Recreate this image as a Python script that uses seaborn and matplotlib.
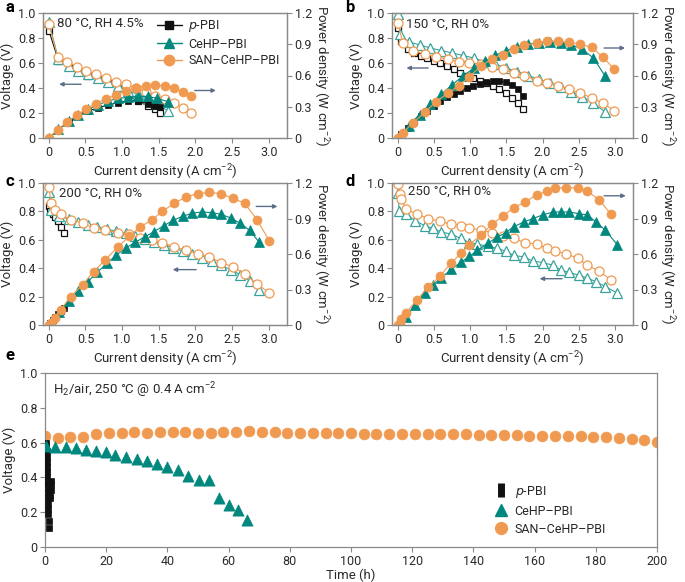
import numpy as np
import pandas as pd
import matplotlib
matplotlib.use('Agg')
import matplotlib.pyplot as plt
from matplotlib.lines import Line2D
from matplotlib.ticker import FuncFormatter
import seaborn as sns

# ---- panel a: 80 C, RH 4.5 % ----
a_p_i = [0, 0.13, 0.27, 0.40, 0.54, 0.67, 0.81, 0.94, 1.08, 1.21, 1.35, 1.45, 1.52]
a_p_v = [0.86, 0.62, 0.57, 0.53, 0.50, 0.47, 0.44, 0.40, 0.34, 0.30, 0.26, 0.23, 0.20]
a_p_pd = [0.0, 0.08, 0.155, 0.21, 0.26, 0.29, 0.315, 0.34, 0.355, 0.36, 0.33, 0.31, 0.30]
a_c_i = [0, 0.13, 0.27, 0.40, 0.54, 0.67, 0.81, 0.94, 1.08, 1.21, 1.35, 1.48, 1.62]
a_c_v = [0.93, 0.63, 0.58, 0.54, 0.51, 0.48, 0.45, 0.42, 0.38, 0.35, 0.31, 0.27, 0.22]
a_c_pd = [0.0, 0.085, 0.16, 0.22, 0.275, 0.32, 0.355, 0.38, 0.39, 0.40, 0.40, 0.38, 0.35]
a_s_i = [0, 0.12, 0.25, 0.38, 0.51, 0.64, 0.78, 0.92, 1.05, 1.19, 1.32, 1.45, 1.59, 1.71, 1.83, 1.94]
a_s_v = [0.91, 0.65, 0.61, 0.57, 0.54, 0.51, 0.48, 0.45, 0.43, 0.40, 0.37, 0.34, 0.31, 0.28, 0.24, 0.20]
a_s_pd = [0.0, 0.08, 0.155, 0.22, 0.28, 0.33, 0.375, 0.415, 0.45, 0.48, 0.50, 0.51, 0.50, 0.48, 0.44, 0.40]

# ---- panel b: 150 C, RH 0 % ----
b_p_i = [0, 0.05, 0.14, 0.23, 0.32, 0.41, 0.50, 0.59, 0.68, 0.77, 0.86, 0.95, 1.04,
         1.13, 1.22, 1.31, 1.40, 1.49, 1.58, 1.66, 1.73]
b_p_v = [0.88, 0.78, 0.71, 0.68, 0.66, 0.64, 0.62, 0.60, 0.58, 0.55, 0.52, 0.50, 0.48,
         0.46, 0.44, 0.42, 0.39, 0.36, 0.32, 0.28, 0.23]
b_p_pd = [0.0, 0.04, 0.10, 0.155, 0.21, 0.26, 0.31, 0.355, 0.395, 0.425, 0.45, 0.48, 0.50,
          0.52, 0.535, 0.545, 0.545, 0.535, 0.51, 0.47, 0.40]
b_c_i = [0, 0.03, 0.15, 0.30, 0.45, 0.60, 0.75, 0.90, 1.05, 1.20, 1.35, 1.50, 1.65,
         1.80, 1.95, 2.10, 2.25, 2.40, 2.55, 2.70, 2.86]
b_c_v = [0.99, 0.83, 0.77, 0.745, 0.72, 0.70, 0.68, 0.66, 0.64, 0.61, 0.59, 0.56, 0.53,
         0.50, 0.47, 0.44, 0.41, 0.37, 0.33, 0.28, 0.21]
b_c_pd = [0.0, 0.025, 0.12, 0.225, 0.325, 0.42, 0.51, 0.595, 0.67, 0.735, 0.795, 0.84, 0.875,
          0.90, 0.915, 0.92, 0.915, 0.895, 0.85, 0.77, 0.60]
b_s_i = [0, 0.07, 0.21, 0.37, 0.53, 0.69, 0.84, 0.99, 1.15, 1.30, 1.45, 1.60, 1.75,
         1.92, 2.06, 2.21, 2.36, 2.52, 2.68, 2.83, 2.99]
b_s_v = [0.92, 0.76, 0.70, 0.67, 0.65, 0.63, 0.61, 0.60, 0.59, 0.57, 0.55, 0.52, 0.50,
         0.46, 0.44, 0.42, 0.39, 0.36, 0.32, 0.28, 0.22]
b_s_pd = [0.0, 0.05, 0.145, 0.245, 0.35, 0.43, 0.50, 0.59, 0.69, 0.76, 0.80, 0.85, 0.89,
          0.91, 0.93, 0.93, 0.92, 0.90, 0.87, 0.78, 0.66]

# ---- panel c: 200 C, RH 0 % ----
c_p_i = [0, 0.02, 0.05, 0.09, 0.13, 0.17, 0.21]
c_p_v = [0.84, 0.80, 0.78, 0.76, 0.73, 0.69, 0.65]
c_p_pd = [0.0, 0.016, 0.04, 0.07, 0.095, 0.12, 0.14]
c_c_i = [0, 0.03, 0.14, 0.27, 0.40, 0.53, 0.66, 0.79, 0.92, 1.05, 1.18, 1.31, 1.44,
         1.57, 1.70, 1.83, 1.96, 2.09, 2.22, 2.35, 2.48, 2.61, 2.74, 2.87]
c_c_v = [0.94, 0.81, 0.77, 0.745, 0.725, 0.705, 0.69, 0.675, 0.66, 0.645, 0.625, 0.605, 0.585,
         0.565, 0.545, 0.52, 0.50, 0.475, 0.45, 0.42, 0.39, 0.355, 0.31, 0.25]
c_c_pd = [0.0, 0.025, 0.11, 0.20, 0.285, 0.365, 0.445, 0.52, 0.59, 0.65, 0.70, 0.745, 0.79,
          0.84, 0.885, 0.92, 0.945, 0.955, 0.95, 0.935, 0.905, 0.86, 0.80, 0.70]
c_s_i = [0, 0.03, 0.08, 0.16, 0.30, 0.46, 0.61, 0.77, 0.94, 1.10, 1.25, 1.41, 1.55,
         1.71, 1.87, 2.03, 2.19, 2.35, 2.51, 2.67, 2.84, 3.01]
c_s_v = [0.97, 0.86, 0.81, 0.78, 0.74, 0.72, 0.68, 0.67, 0.65, 0.64, 0.61, 0.60, 0.58,
         0.55, 0.53, 0.50, 0.48, 0.44, 0.41, 0.36, 0.29, 0.225]
c_s_pd = [0.0, 0.016, 0.06, 0.13, 0.24, 0.34, 0.45, 0.55, 0.66, 0.75, 0.83, 0.89, 0.96,
          1.03, 1.08, 1.11, 1.12, 1.11, 1.07, 1.03, 0.89, 0.71]

# ---- panel d: 250 C, RH 0 % ----
d_c_i = [0, 0.02, 0.12, 0.24, 0.37, 0.49, 0.60, 0.74, 0.87, 0.99, 1.10, 1.24, 1.37,
         1.49, 1.60, 1.74, 1.87, 2.00, 2.15, 2.26, 2.37, 2.51, 2.62, 2.74, 2.87, 3.03]
d_c_v = [0.93, 0.80, 0.78, 0.735, 0.70, 0.68, 0.655, 0.64, 0.61, 0.58, 0.57, 0.555, 0.54,
         0.52, 0.49, 0.48, 0.45, 0.44, 0.42, 0.385, 0.37, 0.35, 0.33, 0.305, 0.27, 0.225]
d_c_pd = [0.0, 0.02, 0.07, 0.17, 0.27, 0.34, 0.40, 0.47, 0.53, 0.58, 0.63, 0.69, 0.74,
          0.78, 0.83, 0.87, 0.90, 0.93, 0.955, 0.955, 0.955, 0.94, 0.93, 0.87, 0.80, 0.68]
d_s_i = [0, 0.03, 0.05, 0.11, 0.26, 0.42, 0.58, 0.73, 0.88, 0.99, 1.15, 1.30, 1.45,
         1.60, 1.76, 1.92, 2.06, 2.17, 2.33, 2.49, 2.62, 2.78, 2.94]
d_s_v = [0.99, 0.92, 0.89, 0.82, 0.78, 0.75, 0.73, 0.71, 0.70, 0.68, 0.67, 0.65, 0.63,
         0.61, 0.58, 0.57, 0.54, 0.52, 0.50, 0.47, 0.42, 0.38, 0.32]
d_s_pd = [0.0, 0.01, 0.05, 0.10, 0.21, 0.32, 0.41, 0.52, 0.61, 0.68, 0.76, 0.85, 0.92,
          0.99, 1.04, 1.10, 1.13, 1.16, 1.16, 1.16, 1.13, 1.06, 0.94]

# ---- panel e: durability, 250 C @ 0.4 A cm-2 ----
e_p_t = [0.4, 0.45, 0.5, 0.55, 0.6, 0.65, 0.7, 0.75, 0.8, 0.85, 0.9, 0.95, 1.0,
         1.05, 1.1, 1.15, 1.2, 1.6, 1.7, 1.8, 1.9, 2.0]
e_p_v = [0.60, 0.58, 0.55, 0.52, 0.49, 0.46, 0.43, 0.40, 0.37, 0.34, 0.31, 0.28, 0.25,
         0.22, 0.19, 0.15, 0.11, 0.28, 0.30, 0.33, 0.36, 0.38]
e_c_t = [0.3, 3.3, 6.8, 10.2, 13.5, 16.7, 20.0, 23.0, 26.6, 30.0, 33.3, 36.5, 40.0,
         43.6, 46.7, 50.2, 53.5, 56.9, 60.0, 63.0, 66.0]
e_c_v = [0.58, 0.577, 0.577, 0.57, 0.56, 0.55, 0.545, 0.53, 0.52, 0.505, 0.493, 0.478, 0.46,
         0.44, 0.41, 0.385, 0.385, 0.28, 0.24, 0.21, 0.155]
e_s_t = [0, 4.2, 8.3, 12.5, 16.7, 20.8, 25.0, 29.2, 33.3, 37.5, 41.7, 45.8, 50.0,
         54.2, 58.3, 62.5, 66.7, 70.8, 75.0, 79.2, 83.3, 87.5, 91.7, 95.8, 100.0,
         104.2, 108.3, 112.5, 116.7, 120.8, 125.0, 129.2, 133.3, 137.5, 141.7, 145.8, 150.0,
         154.2, 158.3, 162.5, 166.7, 170.8, 175.0, 179.2, 183.3, 187.5, 191.7, 195.8, 200.0]
e_s_v = [0.636, 0.627, 0.63, 0.632, 0.649, 0.658, 0.658, 0.66, 0.658, 0.66, 0.66, 0.66, 0.658,
         0.658, 0.66, 0.662, 0.664, 0.66, 0.66, 0.658, 0.658, 0.658, 0.656, 0.654, 0.654,
         0.652, 0.651, 0.651, 0.649, 0.649, 0.649, 0.649, 0.647, 0.647, 0.645, 0.645, 0.645,
         0.642, 0.64, 0.64, 0.638, 0.638, 0.636, 0.632, 0.63, 0.627, 0.62, 0.614, 0.605]

names = ['$\\it{p}$-PBI', 'CeHP–PBI', 'SAN–CeHP–PBI']
BLACK = '#111111'
TEAL = '#00877e'
TEAL_OPEN = '#3aa39b'
ORANGE = '#ef9a50'
ARROW = '#5d6e88'
SPINE = '#8a8a8a'
TXT = '#2b2b2b'

styles = {
    names[0]: dict(marker='s', fill=BLACK, open=BLACK, ms=5.0),
    names[1]: dict(marker='^', fill=TEAL, open=TEAL_OPEN, ms=6.5),
    names[2]: dict(marker='o', fill=ORANGE, open=ORANGE, ms=6.5),
}

sns.set_style('ticks')
plt.rcParams['font.family'] = ['Roboto', 'DejaVu Sans']
plt.rcParams['mathtext.default'] = 'regular'
plt.rcParams['font.size'] = 9
plt.rcParams['axes.edgecolor'] = SPINE
plt.rcParams['xtick.color'] = SPINE
plt.rcParams['ytick.color'] = SPINE
plt.rcParams['xtick.labelcolor'] = TXT
plt.rcParams['ytick.labelcolor'] = TXT
plt.rcParams['axes.labelcolor'] = TXT


def zero_fmt(v, _):
    return '0' if abs(v) < 1e-9 else f'{v:.1f}'


def draw_panel(ax, series, text, left_arrow, right_arrow):
    ax2 = ax.twinx()
    for name, i, v, p in series:
        st = styles[name]
        df = pd.DataFrame({'i': i, 'v': v, 'p': p})
        sns.lineplot(data=df, x='i', y='v', ax=ax, color=st['open'], lw=0.8,
                     marker=st['marker'], ms=st['ms'], mfc='white', mec=st['open'],
                     mew=0.9, sort=False, estimator=None)
        sns.lineplot(data=df, x='i', y='p', ax=ax2, color=st['fill'], lw=0.8,
                     marker=st['marker'], ms=st['ms'], mfc=st['fill'], mec=st['fill'],
                     mew=0.5, sort=False, estimator=None)
    ax.set_xlim(-0.08, 3.25)
    ax.set_ylim(0, 1.0)
    ax2.set_ylim(0, 1.2)
    ax.set_xticks([0, 0.5, 1.0, 1.5, 2.0, 2.5, 3.0])
    ax.set_yticks([0, 0.2, 0.4, 0.6, 0.8, 1.0])
    ax2.set_yticks([0, 0.3, 0.6, 0.9, 1.2])
    for a in (ax, ax2):
        a.xaxis.set_major_formatter(FuncFormatter(zero_fmt))
        a.yaxis.set_major_formatter(FuncFormatter(zero_fmt))
        a.tick_params(length=3.5, width=0.8, labelsize=9, pad=2)
        for s in a.spines.values():
            s.set_linewidth(0.9)
            s.set_color(SPINE)
    ax.set_xlabel('Current density (A cm$^{-2}$)', fontsize=9.5, labelpad=3)
    ax.set_ylabel('Voltage (V)', fontsize=9.5, labelpad=3)
    ax2.set_ylabel('Power density (W cm$^{-2}$)', fontsize=9.5, rotation=270, labelpad=13)
    ax.text(text[1], text[2], text[0], fontsize=9.5, color=TXT, va='center', ha='left')
    for (x0, x1, y) in (left_arrow, right_arrow):
        ax.annotate('', xy=(x1, y), xytext=(x0, y),
                    arrowprops=dict(arrowstyle='-|>', color=ARROW, lw=1.0,
                                    mutation_scale=6, shrinkA=0, shrinkB=0))
    return ax2


fig = plt.figure(figsize=(6.85, 5.82), dpi=100)
W, H = 685.0, 582.0


def box(l, r, t, b):
    return [l / W, 1 - b / H, (r - l) / W, (b - t) / H]


ax_a = fig.add_axes(box(43, 287, 13, 138))
ax_b = fig.add_axes(box(392, 633, 13, 138))
ax_c = fig.add_axes(box(43, 287, 183, 325))
ax_d = fig.add_axes(box(392, 633, 183, 325))
ax_e = fig.add_axes(box(45, 657, 373, 547))

draw_panel(ax_a, [(names[0], a_p_i, a_p_v, a_p_pd), (names[1], a_c_i, a_c_v, a_c_pd),
                  (names[2], a_s_i, a_s_v, a_s_pd)],
           ('80 °C, RH 4.5%', 0.11, 0.92), (0.44, 0.14, 0.43), (1.99, 2.28, 0.38))
draw_panel(ax_b, [(names[0], b_p_i, b_p_v, b_p_pd), (names[1], b_c_i, b_c_v, b_c_pd),
                  (names[2], b_s_i, b_s_v, b_s_pd)],
           ('150 °C, RH 0%', 0.12, 0.91), (0.42, 0.12, 0.56), (2.85, 3.14, 0.72))
draw_panel(ax_c, [(names[0], c_p_i, c_p_v, c_p_pd), (names[1], c_c_i, c_c_v, c_c_pd),
                  (names[2], c_s_i, c_s_v, c_s_pd)],
           ('200 °C, RH 0%', 0.14, 0.93), (2.01, 1.69, 0.39), (2.83, 3.12, 0.835))
draw_panel(ax_d, [(names[1], d_c_i, d_c_v, d_c_pd), (names[2], d_s_i, d_s_v, d_s_pd)],
           ('250 °C, RH 0%', 0.14, 0.94), (2.27, 1.96, 0.326), (2.85, 3.15, 0.91))

# legend in panel a
handles = [Line2D([], [], color=styles[n]['fill'], marker=styles[n]['marker'],
                  ms=styles[n]['ms'] + 1, lw=1.0) for n in names]
ax_a.legend(handles, names, loc='upper right', bbox_to_anchor=(1.0, 1.02), frameon=False,
            fontsize=9, handlelength=2.0, handletextpad=0.5, labelspacing=0.3,
            borderaxespad=0.2)

# ---- panel e ----
df_ep = pd.DataFrame({'t': e_p_t, 'v': e_p_v})
df_ec = pd.DataFrame({'t': e_c_t, 'v': e_c_v})
df_es = pd.DataFrame({'t': e_s_t, 'v': e_s_v})
sns.scatterplot(data=df_ep, x='t', y='v', ax=ax_e, marker='s', s=16, color=BLACK,
                edgecolor=BLACK, linewidth=0.5, zorder=3)
sns.scatterplot(data=df_ec, x='t', y='v', ax=ax_e, marker='^', s=65, color=TEAL,
                edgecolor=TEAL, linewidth=0.5, zorder=3)
sns.scatterplot(data=df_es, x='t', y='v', ax=ax_e, marker='o', s=60, color=ORANGE,
                edgecolor=ORANGE, linewidth=0.5, zorder=2)
ax_e.set_xlim(0, 200)
ax_e.set_ylim(0, 1.0)
ax_e.set_xticks(np.arange(0, 201, 20))
ax_e.set_yticks([0, 0.2, 0.4, 0.6, 0.8, 1.0])
ax_e.yaxis.set_major_formatter(FuncFormatter(zero_fmt))
ax_e.tick_params(length=3.5, width=0.8, labelsize=9, pad=2)
for s in ax_e.spines.values():
    s.set_linewidth(0.9)
    s.set_color(SPINE)
ax_e.set_xlabel('Time (h)', fontsize=9.5, labelpad=1)
ax_e.set_ylabel('Voltage (V)', fontsize=9.5, labelpad=3)
ax_e.text(2.5, 0.9, 'H$_2$/air, 250 °C @ 0.4 A cm$^{-2}$', fontsize=9.5, color=TXT,
          va='center', ha='left')
e_handles = [Line2D([], [], ls='none', marker='|', mew=5, ms=10, color=BLACK),
             Line2D([], [], ls='none', marker='^', ms=8.5, color=TEAL),
             Line2D([], [], ls='none', marker='o', ms=8.5, color=ORANGE)]
ax_e.legend(e_handles, names, loc='lower right', bbox_to_anchor=(0.935, 0.0), frameon=False,
            fontsize=9, handlelength=1.0, handletextpad=0.6, labelspacing=0.4)

for lab, x, y in [('a', 5, 8), ('b', 345, 8), ('c', 5, 182), ('d', 345, 182), ('e', 5, 356)]:
    fig.text(x / W, 1 - y / H, lab, fontsize=12, fontweight='bold', va='center',
             ha='left', color='black')

fig.savefig('out.png', dpi=100)
